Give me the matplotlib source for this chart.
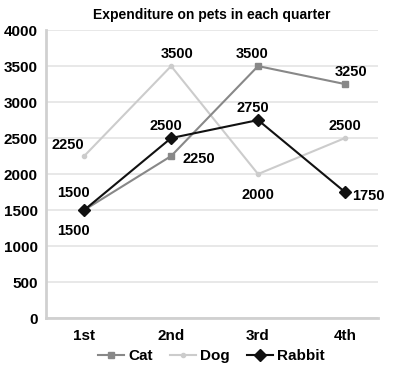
import matplotlib.pyplot as plt

plt.rcParams['font.family'] = ['Liberation Sans', 'DejaVu Sans']
plt.rcParams['font.weight'] = 'bold'

quarters = ['1st', '2nd', '3rd', '4th']
cat = [1500, 2250, 3500, 3250]
dog = [2250, 3500, 2000, 2500]
rabbit = [1500, 2500, 2750, 1750]

# label offsets (points) per series/point
cat_off = [(-8, -15), (20, -2), (-4, 9), (4, 9)]
dog_off = [(-12, 8), (4, 9), (0, -15), (0, 9)]
rabbit_off = [(-8, 12), (-4, 9), (-4, 9), (17, -3)]

fig = plt.figure(figsize=(4.03, 3.67), dpi=100)
ax = fig.add_axes([0.114, 0.1335, 0.824, 0.7845])

x = range(len(quarters))
ax.plot(x, cat, color='#888888', marker='s', markersize=5, lw=1.5, label='Cat', zorder=3)
ax.plot(x, dog, color='#cccccc', marker='o', markersize=3, lw=1.5, label='Dog', zorder=2)
ax.plot(x, rabbit, color='#111111', marker='D', markersize=6, lw=1.5, label='Rabbit', zorder=4)

for vals, offs in [(cat, cat_off), (dog, dog_off), (rabbit, rabbit_off)]:
    for i, (v, o) in enumerate(zip(vals, offs)):
        ax.annotate(str(v), (i, v), textcoords='offset points', xytext=o,
                    ha='center', va='center', fontsize=10.5, fontweight='bold')

ax.set_xlim(-0.44, 3.38)
ax.set_ylim(0, 4000)
ax.set_yticks(range(0, 4001, 500))
ax.set_xticks(list(x))
ax.set_xticklabels(quarters)
ax.tick_params(length=0, labelsize=11, pad=6)
ax.tick_params(axis='x', pad=8)
ax.grid(axis='y', color='#e4e4e4', lw=1.2)
ax.set_axisbelow(True)
for s in ['top', 'right']:
    ax.spines[s].set_visible(False)
for s in ['left', 'bottom']:
    ax.spines[s].set_color('#d0d0d0')
    ax.spines[s].set_linewidth(2)

ax.set_title('Expenditure on pets in each quarter', fontsize=10, fontweight='bold', pad=8)
fig.legend(*ax.get_legend_handles_labels(), loc='center', bbox_to_anchor=(0.525, 0.03),
           ncol=3, frameon=False, fontsize=11, handlelength=1.7, columnspacing=1.1,
           handletextpad=0.3, borderpad=0)

plt.savefig('out.png', dpi=100)
plt.close()
